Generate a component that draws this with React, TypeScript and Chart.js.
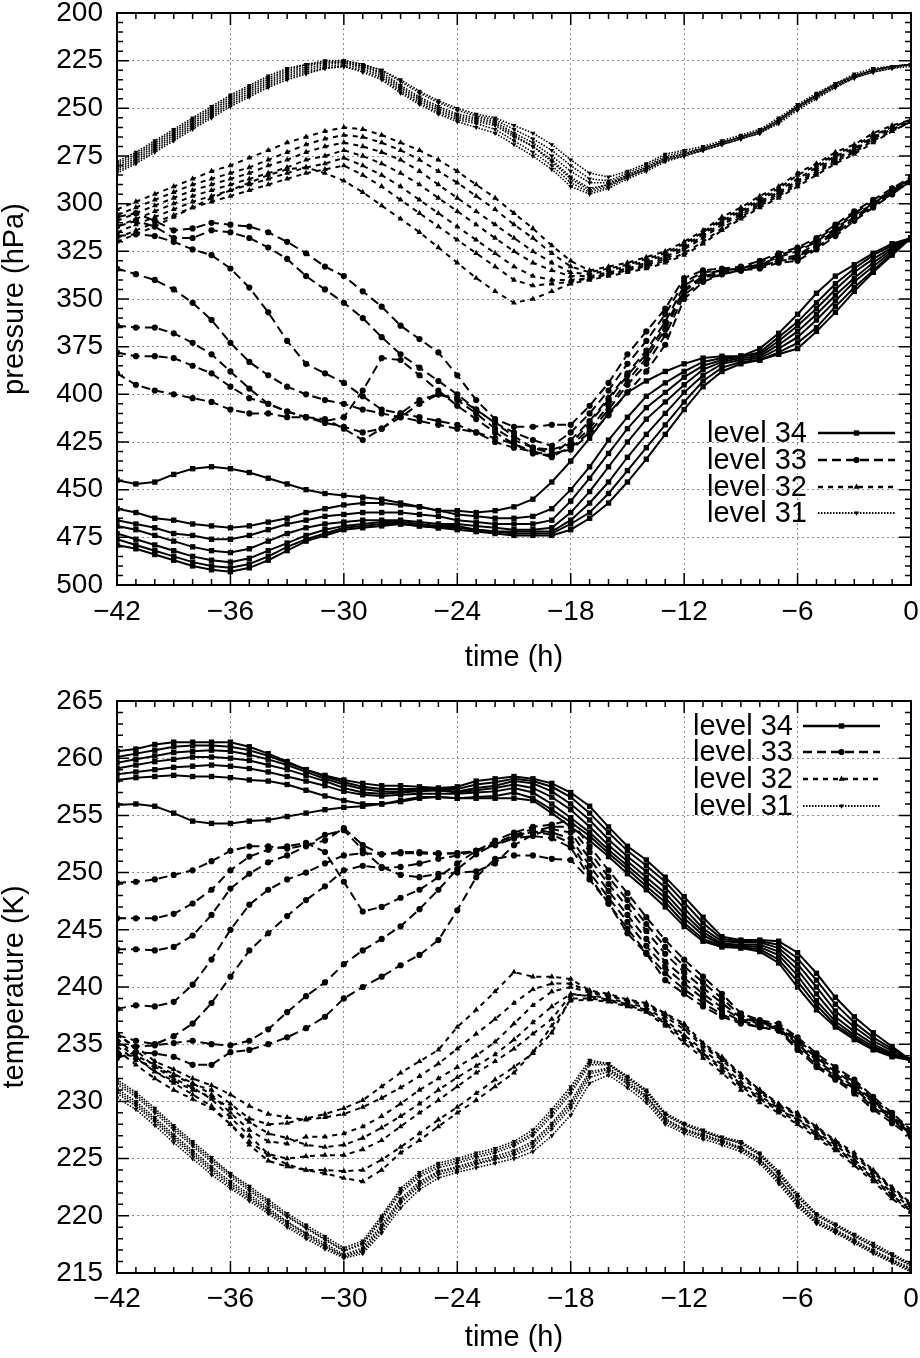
import React, { useEffect, useRef } from "react";
import { Chart, registerables } from "chart.js";

Chart.register(...registerables);

const FONT = '"Liberation Sans", Arial, Helvetica, sans-serif';
Chart.defaults.font.family = FONT;

// hourly time axis (h)
const HOURS = [
  -42, -41, -40, -39, -38, -37, -36, -35, -34, -33, -32, -31, -30, -29, -28,
  -27, -26, -25, -24, -23, -22, -21, -20, -19, -18, -17, -16, -15, -14, -13,
  -12, -11, -10, -9, -8, -7, -6, -5, -4, -3, -2, -1, 0,
];

const LEVEL_NAMES = ["level 34", "level 33", "level 32", "level 31"];

// ---- pressure (hPa), one array per trajectory ----
const P34 = [
  [445,447,446,442,439,438,439,441,444,447,450,452,453,454,455,457,459,461,461,462,461,459,455,446,435,423,410,399,393,388,384,381,380,380,376,368,358,347,338,332,326,321,318],
  [460,462,465,466,468,469,470,469,467,465,462,460,458,457,457,458,459,461,463,464,465,465,464,460,450,438,424,412,401,394,388,383,381,380,378,370,362,352,342,334,327,322,318],
  [466,468,470,473,474,476,476,474,471,468,466,464,463,462,462,462,463,464,466,467,468,468,468,466,456,444,431,418,407,399,391,385,382,380,379,372,364,355,345,336,329,323,318],
  [469,471,474,477,480,482,483,481,477,473,470,468,467,466,466,466,467,468,468,469,470,471,471,470,462,451,438,425,413,404,395,387,383,381,380,374,367,358,348,339,331,324,318],
  [473,476,479,482,485,487,488,486,482,478,474,471,469,468,467,467,468,469,469,471,472,472,472,472,466,457,446,433,421,410,399,390,384,382,381,376,370,361,351,341,333,325,318],
  [476,479,482,485,488,490,491,489,485,480,476,473,470,469,468,468,469,470,470,471,472,473,473,473,468,462,452,440,428,416,404,393,386,383,382,378,373,365,354,344,335,326,318],
  [479,481,484,487,490,492,493,491,487,482,477,474,471,470,469,468,469,470,471,472,473,474,474,474,471,465,457,446,434,421,408,396,388,384,382,379,376,367,357,346,336,327,318],
];

const P33 = [
  [307,305,309,314,313,310,311,312,315,320,326,333,338,346,354,364,371,378,390,403,413,417,417,416,416,406,394,379,367,355,339,335,334,333,330,326,323,318,311,304,298,292,286],
  [312,309,312,318,318,314,315,318,323,329,338,345,352,360,370,379,386,393,400,408,415,420,424,427,420,410,398,384,372,358,341,336,335,334,331,327,324,319,312,305,299,293,287],
  [317,316,317,320,324,327,334,344,357,372,384,389,394,401,408,410,412,414,416,420,425,428,430,432,424,414,402,389,377,362,343,337,335,334,332,328,325,320,313,306,300,293,287],
  [334,337,340,345,352,361,373,383,390,396,400,403,405,408,410,412,414,416,418,420,423,426,430,433,427,418,406,393,381,366,346,339,336,334,332,329,327,321,314,307,300,294,287],
  [364,365,365,368,373,379,388,397,405,409,412,415,417,420,418,412,405,400,403,410,418,424,428,429,426,415,403,390,379,364,345,338,336,335,333,330,328,322,315,308,301,294,288],
  [378,380,380,381,385,389,396,402,405,409,412,414,412,398,381,382,390,398,406,413,420,426,431,432,428,420,408,395,384,369,348,340,337,335,333,330,329,323,316,308,301,295,288],
  [389,395,398,400,402,404,408,410,410,412,412,413,418,424,418,410,403,400,402,408,415,422,428,431,429,421,411,399,388,374,350,341,337,335,334,331,330,324,317,309,302,295,288],
];

const P32 = [
  [303,299,295,291,287,283,280,276,272,268,265,262,260,261,264,268,272,277,283,290,297,305,313,322,330,335,333,331,328,325,320,314,307,302,296,291,284,279,273,269,263,259,256],
  [306,302,298,294,290,287,284,281,277,273,269,266,264,265,268,272,277,283,289,296,303,311,318,326,333,336,334,332,329,326,321,315,308,303,297,292,285,280,274,270,264,260,256],
  [309,305,301,297,293,290,287,284,280,277,273,270,268,270,273,277,283,290,297,304,311,318,325,331,336,337,335,333,330,327,322,316,309,304,298,293,287,281,275,271,265,260,256],
  [312,308,304,300,296,293,290,287,284,281,277,275,272,275,279,284,290,297,304,311,318,325,331,335,338,338,336,334,331,328,323,317,310,305,299,294,288,282,276,272,265,261,257],
  [315,311,307,303,299,296,293,290,287,284,281,279,276,280,285,291,298,305,312,319,326,333,338,340,340,339,337,335,332,329,324,318,311,306,300,295,289,283,277,272,266,261,257],
  [318,314,310,306,302,299,296,293,290,287,284,282,280,285,291,298,305,312,319,326,333,340,343,342,341,339,337,335,333,330,326,320,313,307,301,296,290,284,278,273,267,262,257],
  [320,316,312,307,302,297,293,289,285,282,281,284,288,294,301,308,315,323,331,339,346,352,350,346,342,340,338,336,334,331,327,321,314,308,302,297,291,285,279,274,268,262,257],
];

const P31 = [
  [278,273,267,261,255,249,243,238,233,229,227,225,225,227,230,235,241,246,250,253,255,259,263,269,277,284,286,283,279,274,272,270,267,264,261,255,248,242,237,232,229,228,227],
  [280,275,269,263,257,251,245,240,235,231,228,226,225,227,230,236,242,247,251,254,256,261,266,272,280,287,288,284,280,275,273,271,268,265,262,256,249,243,237,233,230,228,227],
  [281,276,270,264,258,252,246,241,236,232,229,227,226,228,231,238,244,249,253,255,257,263,268,275,283,289,289,285,281,276,274,271,268,265,262,256,249,243,238,233,230,228,227],
  [282,277,271,265,259,253,247,242,237,233,230,228,227,229,233,240,246,251,255,257,259,265,270,277,286,292,290,286,282,277,274,272,269,266,263,257,250,244,238,234,230,228,227],
  [283,278,272,266,260,254,248,243,238,234,231,229,228,230,234,241,247,252,256,258,261,267,273,280,289,294,291,286,282,277,275,272,269,266,263,257,250,244,239,234,231,229,227],
  [284,279,273,267,261,255,249,244,239,235,232,229,228,231,235,242,248,253,257,260,263,269,275,282,291,295,292,287,283,278,275,272,269,266,263,258,251,245,239,234,231,229,228],
  [279,274,268,262,256,250,244,239,234,230,227,226,226,228,232,239,245,250,254,256,258,264,270,278,287,293,290,285,281,276,274,271,268,265,262,256,249,243,238,233,230,228,227],
];

// ---- temperature (K), one array per trajectory ----
const T34 = [
  [255.9,256.0,255.8,255.2,254.5,254.3,254.3,254.5,254.6,254.9,255.2,255.5,255.7,255.8,256.0,256.3,256.6,256.6,256.5,256.5,256.5,256.5,256.3,255.2,254.0,252.8,251.4,249.9,248.5,247.0,245.3,244.0,243.5,243.4,243.1,242.1,240.0,238.0,236.5,235.4,234.5,233.9,233.6],
  [258.1,258.3,258.4,258.5,258.4,258.4,258.3,258.1,258.0,257.7,257.2,256.7,256.3,256.0,256.0,256.2,256.5,256.6,256.5,256.6,256.7,257.0,256.5,255.5,254.4,253.2,251.7,250.3,248.8,247.4,245.6,244.2,243.6,243.5,243.3,242.4,240.5,238.4,236.7,235.6,234.6,234.0,233.6],
  [258.6,258.8,259.0,259.2,259.3,259.4,259.3,259.1,258.8,258.4,258.0,257.6,257.1,256.8,256.7,256.8,256.9,256.9,256.9,257.0,257.1,257.4,257.0,256.0,254.8,253.5,252.0,250.6,249.2,247.8,246.0,244.5,243.7,243.6,243.5,242.8,241.0,238.8,237.0,235.8,234.8,234.1,233.6],
  [259.1,259.4,259.7,259.9,260.1,260.1,260.0,259.8,259.4,259.0,258.5,258.0,257.4,257.0,256.9,257.0,257.1,257.2,257.0,257.2,257.4,257.7,257.4,256.6,255.5,254.0,252.4,251.0,249.6,248.2,246.4,244.8,243.8,243.7,243.7,243.1,241.5,239.4,237.4,236.1,235.0,234.2,233.6],
  [259.6,259.9,260.2,260.5,260.6,260.7,260.6,260.3,259.9,259.4,258.8,258.2,257.7,257.3,257.1,257.1,257.2,257.2,257.1,257.4,257.6,258.0,257.8,257.1,256.0,254.6,252.9,251.4,250.1,248.7,246.9,245.1,244.0,243.9,243.9,243.4,242.0,240.0,237.9,236.5,235.3,234.4,233.6],
  [260.1,260.4,260.7,261.0,261.1,261.1,261.0,260.7,260.2,259.6,259.0,258.4,257.9,257.5,257.3,257.3,257.3,257.3,257.3,257.7,257.9,258.2,258.0,257.5,256.6,255.2,253.5,251.9,250.6,249.2,247.4,245.6,244.2,244.0,244.0,243.7,242.5,240.6,238.5,236.9,235.6,234.6,233.6],
  [260.6,260.8,261.2,261.4,261.4,261.4,261.4,261.0,260.4,259.7,259.0,258.5,258.1,257.8,257.6,257.6,257.5,257.4,257.5,258.0,258.2,258.4,258.2,257.8,257.0,255.8,254.0,252.3,251.1,249.6,247.9,246.1,244.4,244.1,244.1,244.0,243.0,241.2,239.1,237.4,236.0,234.8,233.6],
];

const T33 = [
  [249.1,249.2,249.4,249.8,250.2,251.0,251.9,252.3,252.3,252.1,252.4,252.8,253.9,252.4,251.6,251.8,251.8,251.7,251.7,251.9,252.4,253.0,253.6,254.0,254.0,251.8,249.6,247.6,245.5,243.5,241.8,240.4,239.0,237.5,237.0,236.6,235.4,234.0,232.8,231.7,230.2,228.8,227.4],
  [246.0,246.0,246.0,246.4,247.3,248.5,250.2,251.4,252.0,252.3,252.6,251.8,249.2,246.6,247.0,247.8,248.5,249.6,250.8,251.9,252.8,253.5,254.0,254.2,254.6,252.3,250.2,248.2,246.1,244.1,242.4,240.9,239.4,237.7,237.1,236.8,235.6,234.2,233.0,231.9,230.4,229.0,227.5],
  [243.3,243.3,243.2,243.5,244.5,246.3,248.6,249.9,250.9,251.5,252.3,253.3,253.7,252.0,250.5,249.8,249.6,249.9,250.0,250.1,250.8,252.4,253.3,253.8,253.5,251.2,249.0,247.0,244.9,242.9,241.3,239.9,238.6,237.3,236.9,236.5,235.2,233.8,232.6,231.5,230.0,228.7,227.3],
  [238.1,238.4,238.3,238.7,240.2,242.4,245.0,247.2,248.5,249.4,250.0,250.8,251.5,251.7,251.6,251.7,251.7,251.6,251.7,251.9,252.5,253.3,253.8,253.5,253.0,250.6,248.4,246.3,244.2,242.2,240.8,239.4,238.2,237.2,236.8,236.4,235.0,233.6,232.4,231.3,229.9,228.6,227.2],
  [235.8,235.3,235.0,235.7,236.8,238.6,240.9,243.2,244.7,246.2,247.6,248.8,250.2,250.6,250.4,250.5,250.8,251.2,251.5,251.9,252.6,253.2,253.6,253.3,252.6,250.0,247.8,245.7,243.6,241.7,240.3,239.0,237.9,237.0,236.7,236.3,234.9,233.4,232.2,231.1,229.7,228.5,227.1],
  [235.0,234.8,234.9,235.1,235.3,235.0,234.9,235.3,236.3,237.8,239.2,240.4,242.0,243.2,244.2,245.3,246.8,248.5,250.3,251.6,252.5,253.0,253.2,253.0,252.2,249.6,247.3,245.1,243.0,241.2,239.8,238.6,237.6,236.9,236.5,236.2,234.7,233.2,232.0,231.0,229.5,228.4,227.0],
  [233.8,234.3,234.2,233.9,233.2,233.2,234.3,234.5,235.0,235.6,236.4,237.4,239.0,240.0,240.9,241.9,242.8,244.1,246.7,249.6,251.2,251.5,251.5,251.2,251.1,249.4,247.3,244.7,242.9,240.6,239.4,238.3,237.4,236.8,236.5,236.2,234.5,233.0,231.9,230.7,229.3,228.1,226.9],
];

const T32 = [
  [236.0,234.5,233.0,232.3,231.5,231.0,229.8,228.5,228.0,228.1,228.5,228.9,229.4,230.1,231.3,232.5,233.5,234.5,236.5,238.0,239.6,241.3,240.9,240.9,240.7,239.7,239.4,238.9,238.6,237.7,236.8,235.1,233.9,232.4,231.0,229.8,229.0,227.8,226.6,225.5,224.0,222.5,221.1],
  [235.5,234.0,233.2,232.4,231.6,230.6,229.0,227.5,226.5,226.3,226.9,226.9,227.2,227.8,228.7,229.8,231.0,232.0,233.0,234.0,235.2,236.8,238.4,239.6,240.0,239.5,239.2,238.8,238.4,237.4,236.3,234.8,233.6,232.1,230.8,229.6,228.8,227.6,226.4,225.2,223.8,222.3,220.9],
  [234.8,233.6,233.0,232.0,231.2,230.2,228.6,227.0,225.4,225.0,225.2,225.3,225.3,225.8,226.6,227.8,229.0,230.1,231.3,232.5,233.5,234.6,235.9,237.2,239.3,239.3,239.0,238.6,238.2,237.1,235.8,234.5,233.2,231.7,230.5,229.4,228.5,227.3,226.2,224.9,223.5,222.0,220.7],
  [234.2,233.9,232.6,231.6,230.6,229.6,228.0,226.2,224.8,224.3,224.0,224.0,223.9,224.0,224.9,226.0,227.2,228.4,229.5,230.7,231.9,233.0,234.2,236.0,239.0,239.0,238.8,238.4,237.9,236.8,235.4,234.1,232.8,231.3,230.2,229.2,228.2,227.0,225.9,224.6,223.2,221.7,220.4],
  [234.5,233.2,232.0,231.0,230.2,229.4,228.0,226.5,225.3,224.5,224.0,223.7,223.3,223.0,224.0,225.5,226.6,227.8,229.0,230.1,231.3,232.5,234.3,236.6,238.8,238.9,238.7,238.3,237.8,236.6,235.1,233.8,232.5,231.0,229.9,229.0,228.0,226.8,225.7,224.4,223.0,221.5,220.3],
  [235.2,233.8,232.6,231.8,231.0,230.4,229.4,228.2,227.2,226.8,226.2,226.0,226.2,226.8,227.7,228.7,229.8,231.0,232.1,233.1,234.1,235.4,236.9,238.3,239.4,239.2,238.9,238.5,238.0,236.9,235.6,234.2,233.0,231.5,230.3,229.3,228.4,227.2,226.0,224.7,223.3,221.8,220.5],
  [235.8,234.8,233.5,232.8,232.0,231.4,230.6,229.6,228.9,228.6,228.4,228.6,228.9,229.5,230.3,231.2,232.2,233.3,234.6,235.9,237.2,238.6,239.8,240.3,240.3,239.6,239.3,238.8,238.5,237.6,236.6,234.9,233.8,232.3,231.0,229.7,228.9,227.7,226.5,225.3,223.9,222.4,221.0],
];

const T31 = [
  [231.9,230.8,229.4,227.9,226.5,225.1,223.7,222.6,221.4,220.2,219.2,218.2,217.2,217.8,220.0,222.4,223.8,224.6,225.0,225.5,225.9,226.5,227.5,229.3,231.3,233.6,233.3,232.2,231.0,229.0,228.1,227.5,226.9,226.5,225.5,223.9,221.9,220.2,219.3,218.4,217.6,216.7,215.8],
  [231.5,230.4,229.0,227.5,226.1,224.7,223.4,222.2,221.0,219.9,218.9,217.9,216.9,217.5,219.6,222.0,223.4,224.2,224.6,225.1,225.5,226.1,227.0,228.7,230.7,233.2,233.2,232.0,230.8,228.8,227.9,227.3,226.8,226.3,225.3,223.6,221.6,220.0,219.1,218.2,217.3,216.5,215.6],
  [231.1,230.0,228.6,227.1,225.7,224.3,223.0,221.9,220.7,219.5,218.5,217.6,216.6,217.2,219.2,221.5,223.0,223.9,224.3,224.8,225.2,225.7,226.5,228.1,230.0,232.6,232.9,231.8,230.5,228.5,227.6,227.1,226.6,226.0,225.0,223.3,221.3,219.7,218.8,217.9,217.0,216.2,215.4],
  [230.7,229.6,228.2,226.7,225.3,223.9,222.6,221.5,220.4,219.2,218.2,217.3,216.4,216.9,218.8,221.1,222.6,223.6,224.0,224.5,224.9,225.3,226.0,227.6,229.4,232.1,232.6,231.5,230.2,228.2,227.4,226.9,226.4,225.8,224.8,223.0,221.0,219.4,218.6,217.7,216.8,216.0,215.2],
  [230.3,229.3,227.9,226.4,225.0,223.6,222.4,221.3,220.2,219.0,218.0,217.1,216.3,216.7,218.5,220.7,222.3,223.3,223.8,224.2,224.6,225.0,225.6,227.0,228.8,231.6,232.3,231.2,229.9,228.0,227.2,226.7,226.2,225.6,224.6,222.8,220.8,219.3,218.5,217.6,216.7,215.9,215.1],
  [231.7,230.6,229.2,227.7,226.3,224.9,223.6,222.4,221.2,220.0,219.0,218.0,217.0,217.6,219.8,222.2,223.6,224.4,224.8,225.3,225.7,226.3,227.2,229.0,231.0,233.4,233.3,232.1,230.9,228.9,228.0,227.4,226.8,226.4,225.4,223.7,221.7,220.1,219.2,218.3,217.4,216.6,215.7],
  [230.9,229.8,228.4,226.9,225.5,224.1,222.8,221.7,220.5,219.4,218.4,217.4,216.5,217.0,219.0,221.3,222.8,223.8,224.2,224.6,225.0,225.5,226.3,227.9,229.7,232.4,232.8,231.6,230.4,228.4,227.5,227.0,226.5,225.9,224.9,223.2,221.2,219.5,218.7,217.8,216.9,216.1,215.3],
];

// styles per level (34, 33, 32, 31)
const LEVEL_STYLE = [
  { dash: [] as number[], point: "rect", radius: 3.8, rotation: 0, width: 2 },
  { dash: [9, 5], point: "circle", radius: 3.1, rotation: 0, width: 2 },
  { dash: [5, 5], point: "triangle", radius: 3.4, rotation: 0, width: 2 },
  { dash: [1.5, 1.5], point: "triangle", radius: 2.8, rotation: 180, width: 1.6 },
];

const TICK_SIZE = 28;
const TEXT_SIZE = 29;

const fmtHour = (v: number) => (v < 0 ? "\u2212" + Math.abs(v) : String(v));

function buildDatasets(levels: number[][][]) {
  const out: any[] = [];
  levels.forEach((lines, li) => {
    const s = LEVEL_STYLE[li];
    lines.forEach((vals) => {
      out.push({
        label: LEVEL_NAMES[li],
        data: vals.map((v, i) => ({ x: HOURS[i], y: v })),
        borderColor: "#000",
        backgroundColor: "#000",
        borderWidth: s.width,
        borderDash: s.dash,
        pointStyle: s.point,
        pointRadius: s.radius,
        pointRotation: s.rotation,
        pointBorderWidth: 0,
        pointBackgroundColor: "#000",
        pointBorderColor: "#000",
        tension: 0,
        fill: false,
      });
    });
  });
  return out;
}

function drawMarker(ctx: CanvasRenderingContext2D, s: any, x: number, y: number) {
  const r = s.radius;
  ctx.beginPath();
  if (s.point === "rect") {
    const h = r * Math.SQRT1_2;
    ctx.rect(x - h, y - h, 2 * h, 2 * h);
  } else if (s.point === "circle") {
    ctx.arc(x, y, r, 0, Math.PI * 2);
  } else {
    const sg = s.rotation === 180 ? -1 : 1;
    ctx.moveTo(x, y - sg * r);
    ctx.lineTo(x - r * 0.866, y + (sg * r) / 2);
    ctx.lineTo(x + r * 0.866, y + (sg * r) / 2);
    ctx.closePath();
  }
  ctx.fill();
}

// gnuplot-like frame with inward major/minor ticks on all four sides
const framePlugin = {
  id: "frame",
  afterDatasetsDraw(chart: any, _a: any, opts: any) {
    const { ctx, chartArea: a, scales } = chart;
    const xs = scales.x;
    const ys = scales.y;
    ctx.save();
    ctx.setLineDash([]);
    ctx.strokeStyle = "#000";
    ctx.lineWidth = 1.5;
    ctx.beginPath();
    const n = Math.round((xs.max - xs.min) / opts.xMinor);
    for (let i = 0; i <= n; i++) {
      const v = xs.min + i * opts.xMinor;
      const px = xs.getPixelForValue(v);
      const len = i % Math.round(opts.xMajor / opts.xMinor) === 0 ? 12 : 6;
      ctx.moveTo(px, a.bottom);
      ctx.lineTo(px, a.bottom - len);
      ctx.moveTo(px, a.top);
      ctx.lineTo(px, a.top + len);
    }
    const m = Math.round((ys.max - ys.min) / opts.yMinor);
    for (let i = 0; i <= m; i++) {
      const v = ys.min + i * opts.yMinor;
      const py = ys.getPixelForValue(v);
      const len = i % Math.round(opts.yMajor / opts.yMinor) === 0 ? 12 : 6;
      ctx.moveTo(a.left, py);
      ctx.lineTo(a.left + len, py);
      ctx.moveTo(a.right, py);
      ctx.lineTo(a.right - len, py);
    }
    ctx.stroke();
    ctx.lineWidth = 2;
    ctx.strokeRect(a.left, a.top, a.right - a.left, a.bottom - a.top);
    ctx.restore();
  },
};

// key with the text left of the sample line, as in the original
const legendPlugin = {
  id: "levelLegend",
  afterDraw(chart: any, _a: any, opts: any) {
    if (!opts || !opts.rows) return;
    const ctx = chart.ctx;
    ctx.save();
    ctx.font = `${TEXT_SIZE}px ${FONT}`;
    ctx.fillStyle = "#000";
    ctx.strokeStyle = "#000";
    ctx.textAlign = "right";
    ctx.textBaseline = "middle";
    opts.rows.forEach((yy: number, i: number) => {
      const s = LEVEL_STYLE[i];
      ctx.fillText(LEVEL_NAMES[i], opts.textRight, yy + 1);
      ctx.setLineDash(s.dash);
      ctx.lineWidth = s.width + 0.6;
      ctx.beginPath();
      ctx.moveTo(opts.x1, yy);
      ctx.lineTo(opts.x2, yy);
      ctx.stroke();
      ctx.setLineDash([]);
      drawMarker(ctx, s, (opts.x1 + opts.x2) / 2, yy);
    });
    ctx.restore();
  },
};

// keep the plot box exactly where layout.padding + fixed axis sizes put it
const noOverflow = (s: any) => {
  s.paddingTop = 0;
  s.paddingBottom = 0;
  s.paddingLeft = 0;
  s.paddingRight = 0;
};

interface PanelProps {
  levels: number[][][];
  yTitle: string;
  yMin: number;
  yMax: number;
  yStep: number;
  yMinor: number;
  reverse: boolean;
  height: number;
  padTop: number;
  axisH: number;
  tickPad: number;
  titlePad: number;
  legend: any;
}

const Panel: React.FC<PanelProps> = (p) => {
  const ref = useRef<HTMLCanvasElement>(null);

  useEffect(() => {
    if (!ref.current) return;
    const tickFont = { size: TICK_SIZE, family: FONT };
    const titleFont = { size: TEXT_SIZE, family: FONT, lineHeight: 1 };
    const chart = new Chart(ref.current, {
      type: "line",
      data: { datasets: buildDatasets(p.levels) },
      options: {
        responsive: false,
        animation: false,
        devicePixelRatio: 1,
        layout: { padding: { top: p.padTop, right: 9, left: 0, bottom: 0 } },
        plugins: {
          legend: { display: false },
          tooltip: { enabled: false },
          frame: { xMajor: 6, xMinor: 1, yMajor: p.yStep, yMinor: p.yMinor },
          levelLegend: p.legend,
        } as any,
        scales: {
          x: {
            type: "linear",
            min: -42,
            max: 0,
            grid: { color: "#8c8c8c", lineWidth: 1, drawTicks: false },
            border: { display: false, dash: [2, 3] },
            ticks: {
              stepSize: 6,
              autoSkip: false,
              maxRotation: 0,
              padding: p.tickPad,
              color: "#000",
              font: tickFont,
              callback: (v: any) => fmtHour(Number(v)),
            },
            title: {
              display: true,
              text: "time (h)",
              color: "#000",
              font: titleFont,
              padding: { top: 0, bottom: p.titlePad },
            },
            afterFit: (s: any) => {
              s.height = p.axisH;
              noOverflow(s);
            },
          },
          y: {
            type: "linear",
            min: p.yMin,
            max: p.yMax,
            reverse: p.reverse,
            grid: { color: "#8c8c8c", lineWidth: 1, drawTicks: false },
            border: { display: false, dash: [2, 3] },
            ticks: {
              stepSize: p.yStep,
              autoSkip: false,
              padding: 14,
              color: "#000",
              font: tickFont,
            },
            title: {
              display: true,
              text: p.yTitle,
              color: "#000",
              font: titleFont,
              padding: { top: 0, bottom: 0 },
            },
            afterFit: (s: any) => {
              s.width = 117;
              noOverflow(s);
            },
          },
        } as any,
      },
      plugins: [framePlugin, legendPlugin],
    });
    return () => chart.destroy();
  }, []);

  return <canvas ref={ref} width={920} height={p.height} style={{ display: "block" }} />;
};

export default function App() {
  return (
    <div style={{ position: "absolute", left: 0, top: 0, width: 920, height: 1358, background: "#fff" }}>
      <Panel
        levels={[P34, P33, P32, P31]}
        yTitle="pressure (hPa)"
        yMin={200}
        yMax={500}
        yStep={25}
        yMinor={5}
        reverse={true}
        height={680}
        padTop={13}
        axisH={95}
        tickPad={10}
        titlePad={8}
        legend={{ textRight: 807, x1: 818, x2: 895, rows: [433, 460, 487, 513] }}
      />
      <Panel
        levels={[T34, T33, T32, T31]}
        yTitle="temperature (K)"
        yMin={215}
        yMax={265}
        yStep={5}
        yMinor={1}
        reverse={false}
        height={678}
        padTop={21}
        axisH={85}
        tickPad={9}
        titlePad={6}
        legend={{ textRight: 793, x1: 803, x2: 880, rows: [46, 72, 99, 126] }}
      />
    </div>
  );
}
